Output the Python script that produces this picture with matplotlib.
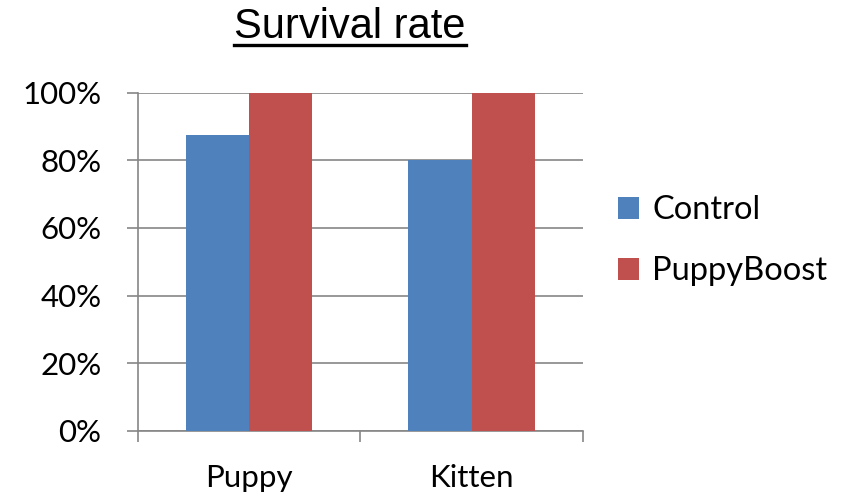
import matplotlib
matplotlib.use("Agg")
import matplotlib.pyplot as plt
from matplotlib.ticker import PercentFormatter, FixedLocator
from matplotlib.lines import Line2D
import numpy as np

categories = ["Puppy", "Kitten"]
control = [87.5, 80.0]        # survival %
puppyboost = [100.0, 100.0]
series_names = ["Control", "PuppyBoost"]
yticks = [0, 20, 40, 60, 80, 100]

fig = plt.figure(figsize=(8.46, 4.95), dpi=100)
ax = fig.add_axes([0.1628, 0.1299, 0.5262, 0.6828])

grey = "#868686"
x = np.arange(len(categories))
w = 0.285
ax.bar(x - w / 2, control, w, color="#4F81BD", label=series_names[0], zorder=3)
ax.bar(x + w / 2, puppyboost, w, color="#C0504D", label=series_names[1], zorder=3)

ax.set_xlim(-0.5, len(categories) - 0.5)
ax.set_ylim(0, 100)
ax.set_yticks(yticks)
ax.yaxis.set_major_formatter(PercentFormatter(decimals=0))
ax.yaxis.grid(True, color=grey, linewidth=1.2, zorder=0)

for s in ["top", "right"]:
    ax.spines[s].set_visible(False)
for s in ["left", "bottom"]:
    ax.spines[s].set_color(grey)
    ax.spines[s].set_linewidth(1.2)

font = "Lato"
ax.set_xticks(x)
ax.set_xticklabels(categories)
ax.xaxis.set_minor_locator(FixedLocator(np.arange(-0.5, len(categories), 1.0)))
ax.tick_params(axis="x", which="major", length=0, pad=24, labelsize=22.5)
ax.tick_params(axis="x", which="minor", length=8, width=1.2, color=grey, direction="out")
ax.tick_params(axis="y", length=8, width=1.2, color=grey, pad=18, labelsize=22.5)
for lab in ax.get_xticklabels() + ax.get_yticklabels():
    lab.set_fontfamily(font)

ax.legend(loc="center left", bbox_to_anchor=(1.05, 0.562), frameon=False,
          prop={"family": font, "size": 23.5}, handlelength=0.65, handleheight=0.65,
          handletextpad=0.4, labelspacing=0.95, borderaxespad=0)

title = fig.text(350 / 846, 1 - 27 / 495, "Survival rate", ha="center", va="center",
                 fontsize=30, family="Liberation Sans")
fig.canvas.draw()
bb = title.get_window_extent().transformed(fig.transFigure.inverted())
uy = bb.y0 + 0.004
fig.add_artist(Line2D([bb.x0, bb.x1], [uy, uy], transform=fig.transFigure,
                      color="black", linewidth=2.4))

fig.savefig("out.png", dpi=100)
